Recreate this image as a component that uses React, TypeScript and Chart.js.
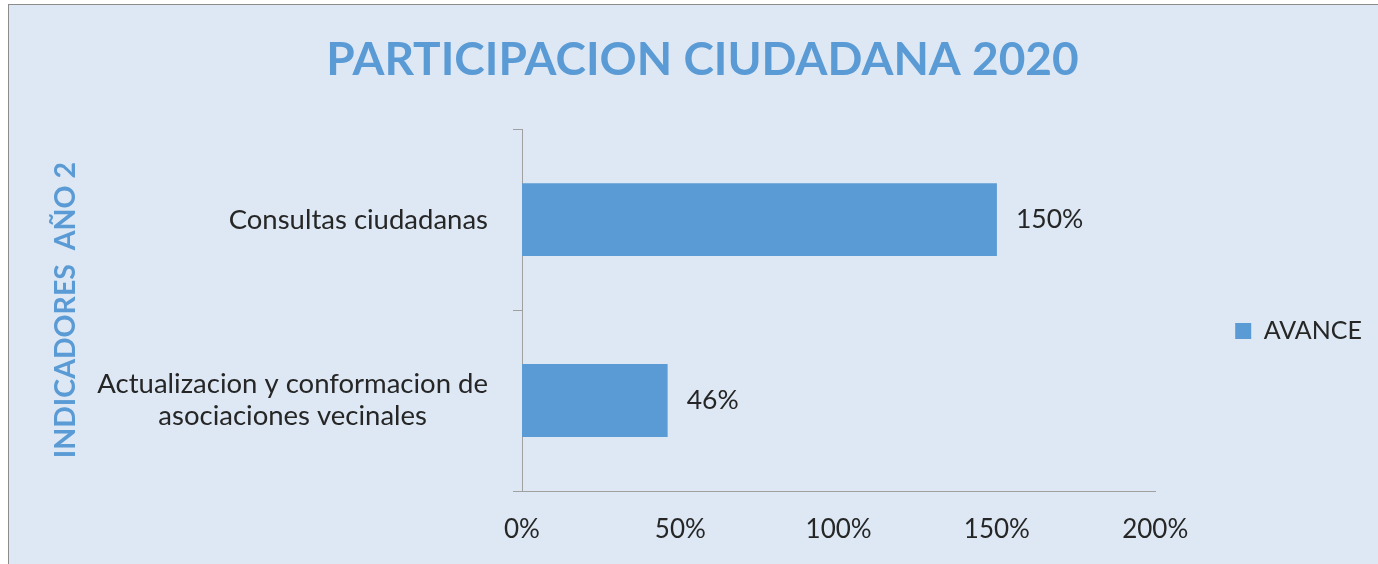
import React, { useEffect, useRef } from 'react';
import { Chart, registerables } from 'chart.js';

Chart.register(...registerables);

// ---- data ----
const chartTitle = 'PARTICIPACION CIUDADANA 2020';
const yAxisTitle = 'INDICADORES  AÑO 2';
const seriesName = 'AVANCE';
const categories: string[][] = [
  ['Consultas ciudadanas'],
  ['Actualizacion y conformacion de', 'asociaciones vecinales'],
];
const avance: number[] = [1.5, 0.46];
const xTickValues: number[] = [0, 0.5, 1, 1.5, 2];

// ---- style ----
const BLUE = '#5b9bd5';
const BG = '#dde8f4';
const TEXT = '#262626';
const AXIS = '#a0a0a0';
const FONT = 'Lato';

const pct = (v: number) => Math.round(v * 100) + '%';

const yLabelPlugin = {
  id: 'yCatLabels',
  afterDraw(chart: any) {
    const scale = chart.scales.y;
    const ctx = chart.ctx;
    ctx.save();
    ctx.font = `27.5px ${FONT}`;
    ctx.fillStyle = TEXT;
    ctx.textAlign = 'center';
    ctx.textBaseline = 'middle';
    const right = scale.right - 9 - 25;
    categories.forEach((lines, i) => {
      const y = scale.getPixelForValue(i);
      const w = Math.max(...lines.map((l) => ctx.measureText(l).width));
      const cx = right - w / 2;
      lines.forEach((l, k) => ctx.fillText(l, cx, y + (k - (lines.length - 1) / 2) * 32));
    });
    ctx.restore();
  },
};

const valueLabelPlugin = {
  id: 'valueLabels',
  afterDatasetsDraw(chart: any) {
    const ctx = chart.ctx;
    const meta = chart.getDatasetMeta(0);
    ctx.save();
    ctx.font = `26.5px ${FONT}`;
    ctx.fillStyle = TEXT;
    ctx.textAlign = 'left';
    ctx.textBaseline = 'middle';
    meta.data.forEach((bar: any, i: number) => {
      ctx.fillText(pct(avance[i]), bar.x + 19, bar.y);
    });
    ctx.restore();
  },
};

export default function App() {
  const ref = useRef<HTMLCanvasElement | null>(null);

  useEffect(() => {
    if (!ref.current) return;
    const chart = new Chart(ref.current, {
      type: 'bar',
      data: {
        labels: categories.map((c) => c.join(' ')),
        datasets: [
          {
            label: seriesName,
            data: avance,
            backgroundColor: BLUE,
            borderWidth: 0,
            categoryPercentage: 1,
            barPercentage: 0.403,
          },
        ],
      },
      options: {
        indexAxis: 'y',
        responsive: false,
        animation: false,
        devicePixelRatio: 1,
        layout: { padding: { left: 24, right: 24, top: 0, bottom: 0 } },
        plugins: {
          title: {
            display: true,
            text: chartTitle,
            color: BLUE,
            font: { family: FONT, size: 46, weight: 'bold' },
            padding: { top: 28, bottom: 41 },
          },
          legend: {
            display: true,
            position: 'right',
            labels: {
              color: TEXT,
              font: { family: FONT, size: 25 },
              boxWidth: 16,
              boxHeight: 16,
              padding: 80,
            },
          },
          tooltip: { enabled: false },
        },
        scales: {
          x: {
            type: 'linear',
            min: 0,
            max: 2,
            afterBuildTicks: (s: any) => {
              s.ticks = xTickValues.map((v) => ({ value: v }));
            },
            afterFit: (s: any) => {
              s.height = 166;
            },
            grid: { display: false, drawTicks: false },
            border: { display: true, color: AXIS, width: 1 },
            ticks: {
              color: TEXT,
              font: { family: FONT, size: 26 },
              padding: 23,
              maxRotation: 0,
              callback: (v: any) => pct(Number(v)),
            },
          },
          y: {
            type: 'category',
            afterFit: (s: any) => {
              s.width = 489;
            },
            grid: {
              display: true,
              drawOnChartArea: false,
              drawTicks: true,
              tickLength: 9,
              color: AXIS,
              offset: true,
            },
            border: { display: true, color: AXIS, width: 1 },
            ticks: { display: false },
            title: {
              display: true,
              text: yAxisTitle,
              color: BLUE,
              font: { family: FONT, size: 28.5, weight: 'bold' },
              padding: { top: 16, bottom: 0 },
            },
          },
        },
      },
      plugins: [yLabelPlugin, valueLabelPlugin],
    });
    return () => chart.destroy();
  }, []);

  return (
    <div style={{ position: 'fixed', left: 0, top: 0, width: 1378, height: 564, overflow: 'hidden' }}>
      <div
        style={{
          position: 'absolute',
          left: 8,
          top: 4,
          width: 1420,
          height: 700,
          boxSizing: 'border-box',
          border: '1px solid #8c8c8c',
          background: BG,
        }}
      >
        <canvas
          ref={ref}
          width={1387}
          height={652}
          style={{ position: 'absolute', left: 0, top: 0, width: 1387, height: 652 }}
        />
      </div>
    </div>
  );
}
